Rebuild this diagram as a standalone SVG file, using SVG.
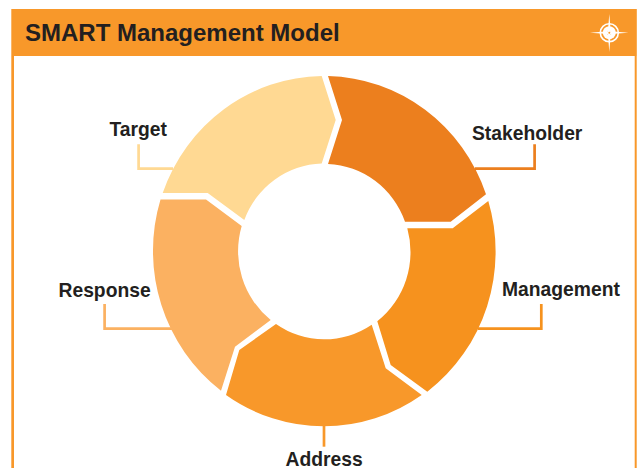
<svg xmlns="http://www.w3.org/2000/svg" width="641" height="468" viewBox="0 0 641 468">
<style>
text{font-family:"Liberation Sans",Arial,sans-serif;font-weight:bold;fill:#231F20}
.lbl{font-size:19.3px}
.title{font-size:24px}
.c{fill:none;stroke-width:2.7}
</style>
<rect width="641" height="468" fill="#fff"/>
<g id="frame">
<rect x="11.3" y="9" width="625.5" height="47" fill="#F8982A"/>
<rect x="11.3" y="56" width="2.7" height="412" fill="#F8982A"/>
<rect x="634.7" y="56" width="2" height="412" fill="#F8982A"/>
<text class="title" x="25" y="40.5">SMART Management Model</text>
</g>
<g id="compass">
<circle cx="609.3" cy="32.7" r="9" fill="none" stroke="#fff" stroke-width="1.6"/>
<circle cx="609.3" cy="32.7" r="6.5" fill="#fff"/>
<circle cx="609.3" cy="32.7" r="2.2" fill="#F8982A"/>
<path d="M609.3 14L610.7 31.3L628.5 32.7L610.7 34.1L609.3 52L607.9 34.1L590 32.7L607.9 31.3Z" fill="#fff"/>
<circle cx="609.3" cy="32.7" r="1" fill="#F8982A"/>
</g>
<g id="connectors">
<path class="c" stroke="#FFD993" d="M138.6 144.3V168.6H173"/>
<path class="c" stroke="#EC7F1E" d="M534.6 144.3V168.6H475"/>
<path class="c" stroke="#F6921E" d="M541.3 304V328.6H478"/>
<path class="c" stroke="#FBB161" d="M104.6 304V328.6H172"/>
<path class="c" stroke="#F8982A" d="M324 426V446.7"/>
</g>
<g id="stakeholder">
<path fill="#EC7F1E" d="M328 76A171.4 175.3 0 0 1 486 194.3L450.7 221.7H405A85.5 87.5 0 0 0 328 164L342 120Z"/>
<text class="lbl" x="472" y="140">Stakeholder</text>
</g>
<g id="management">
<path fill="#F6921E" d="M488.3 201A171.4 175.3 0 0 1 427.3 391.7L390.7 365L377.3 321.3A85.5 87.5 0 0 0 407.3 228.3H452.7Z"/>
<text class="lbl" x="502" y="296">Management</text>
</g>
<g id="address">
<path fill="#F8982A" d="M421.7 395A171.4 175.3 0 0 1 226 395L239.3 350L276 324A85.5 87.5 0 0 0 371.7 324.7L385.7 368.3Z"/>
<text class="lbl" x="285.5" y="466">Address</text>
</g>
<g id="response">
<path fill="#FBB161" d="M221 390.7A171.4 175.3 0 0 1 160.5 199.5H206L241.7 226A85.5 87.5 0 0 0 270.7 320L235 346.7Z"/>
<text class="lbl" x="58.5" y="297">Response</text>
</g>
<g id="target">
<path fill="#FFD993" d="M162.7 193A171.4 175.3 0 0 1 321.7 76L335.7 120L321.7 163.5A85.5 87.5 0 0 0 244.3 220L207.7 193Z"/>
<text class="lbl" x="109.5" y="136">Target</text>
</g>
</svg>
